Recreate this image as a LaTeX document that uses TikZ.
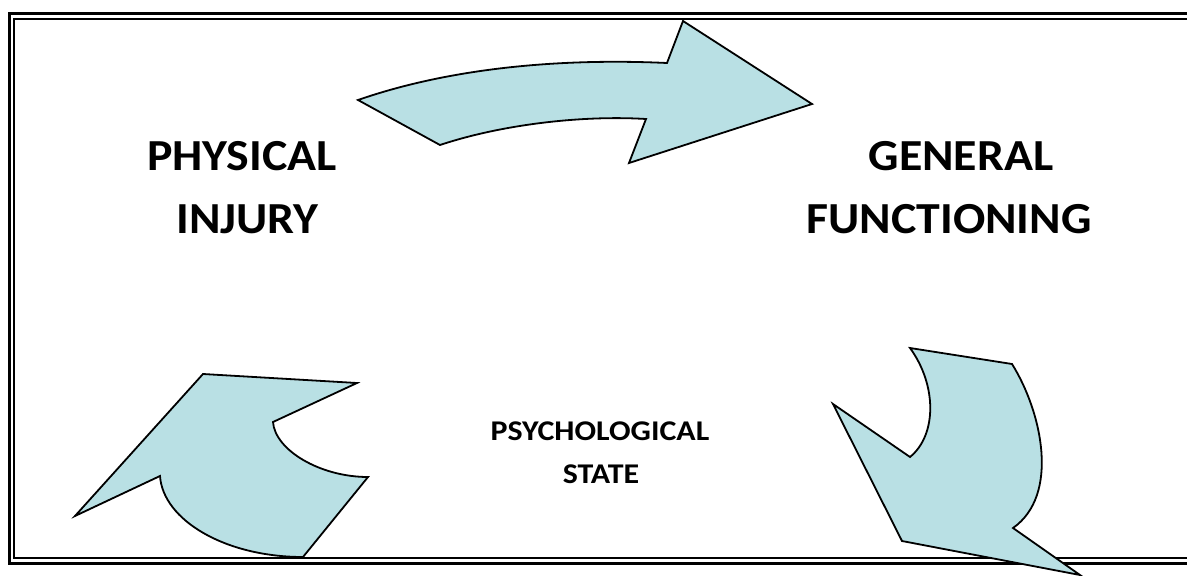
\documentclass[tikz,border=0pt]{standalone}
\usepackage{fontspec}
\setmainfont{Carlito}
\definecolor{arrowfill}{RGB}{185,224,228}
\newcommand{\widebig}[1]{\scalebox{1.1}[1.02]{#1}}
\newcommand{\widesmall}[1]{\scalebox{1.14}[1.02]{#1}}
\tikzset{
  bigarrow/.style={draw=black, line width=1.8pt, fill=arrowfill, line join=miter},
  bigtext/.style={font=\fontsize{43.5}{50}\selectfont\bfseries, inner sep=0pt, anchor=base},
  smalltext/.style={font=\fontsize{28}{34}\selectfont\bfseries, inner sep=0pt, anchor=base},
}
\begin{document}
\begin{tikzpicture}[x=1pt,y=-1pt]
\useasboundingbox (0,0) rectangle (1187,576);
\fill[white] (0,0) rectangle (1187,576);
% double frame (runs off the right edge)
\draw[line width=3pt] (1200,13.5) -- (9.5,13.5) -- (9.5,563.5) -- (1200,563.5);
\draw[line width=2pt] (1200,19) -- (14,19) -- (14,557.5) -- (1200,557.5);

% top curved arrow
\draw[bigarrow] (358,100) .. controls (450,68) and (560,58) .. (667,63)
  -- (683,21) -- (812,104) -- (629,163) -- (646,119)
  .. controls (580,115) and (500,125) .. (440,145) -- cycle;

% bottom-left curved arrow
\draw[bigarrow] (203,374) -- (357,383) -- (273,422)
  .. controls (275,450) and (320,477) .. (368,477)
  -- (303,557)
  .. controls (225,557) and (163,520) .. (160,476)
  -- (75,516) -- cycle;

% bottom-right curved arrow
\draw[bigarrow] (910,348) -- (1012,364)
  .. controls (1042,412) and (1060,495) .. (1013,528)
  -- (1080,575) -- (902,541) -- (833,404) -- (910,457)
  .. controls (937,435) and (937,385) .. (910,348) -- cycle;

\node[bigtext] (phys1) at (242,170) {\widebig{PHYSICAL}};
\node[bigtext] (phys2) at (247.5,233) {\widebig{INJURY}};
\node[bigtext] (gen1) at (961,170) {\widebig{GENERAL}};
\node[bigtext] (gen2) at (949,233) {\widebig{FUNCTIONING}};
\node[smalltext] (psy1) at (600,440) {\widesmall{PSYCHOLOGICAL}};
\node[smalltext] (psy2) at (601,483) {\widesmall{STATE}};
\end{tikzpicture}
\end{document}
